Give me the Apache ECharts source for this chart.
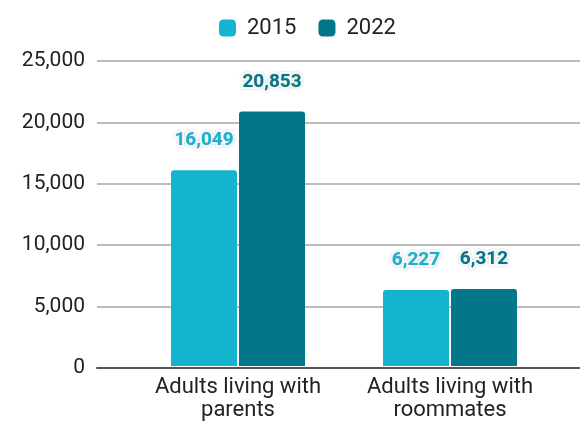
<!DOCTYPE html>
<html>
<head>
<meta charset="utf-8">
<script src="https://cdn.jsdelivr.net/npm/echarts@6/dist/echarts.min.js"></script>
<style>html,body{margin:0;padding:0;background:#fff}#c{width:580px;height:422px}</style>
</head>
<body>
<div id="c"></div>
<script>
const categories = ['Adults living with parents', 'Adults living with roommates'];
const seriesNames = ['2015', '2022'];
const values2015 = [16049, 6227];
const values2022 = [20853, 6312];
const yTicks = [0, 5000, 10000, 15000, 20000, 25000];

const colors = ['#14B4D1', '#02778A'];
const font = 'Roboto';
const fmt = v => v.toLocaleString('en-US');

const chart = echarts.init(document.getElementById('c'), null, {renderer: 'canvas'});
const labelCfg = (c) => ({
  show: true, position: 'top', distance: 20,
  color: c, fontFamily: font, fontWeight: 'bold', fontSize: 19,
  textBorderColor: '#fff', textBorderWidth: 4,
  textShadowColor: 'rgba(0,0,0,0.25)', textShadowBlur: 2,
  formatter: p => fmt(p.value)
});
chart.setOption({
  animation: false,
  textStyle: {fontFamily: font},
  legend: {
    top: 12, left: 214, itemWidth: 17, itemHeight: 17, itemGap: 22, icon: 'roundRect',
    textStyle: {fontFamily: font, fontSize: 22, color: '#222', padding: [0, 0, 0, 6]},
    data: seriesNames
  },
  grid: [
    {left: 97, right: 0, top: 61, bottom: 54},
    {left: 132, right: 24, top: 61, bottom: 54}
  ],
  xAxis: [
    {gridIndex: 0, type: 'value', min: 0, max: 1, axisLabel: {show: false}, splitLine: {show: false},
     axisTick: {show: false}, axisLine: {show: true, lineStyle: {color: '#555', width: 2}}},
    {gridIndex: 1, type: 'category', data: categories, axisLine: {show: false}, axisTick: {show: false},
     axisLabel: {interval: 0, hideOverlap: false, fontFamily: font, fontSize: 22, color: '#222', margin: 10, lineHeight: 23,
       formatter: v => v.replace(' with ', ' with\n')}}
  ],
  yAxis: [
    {gridIndex: 0, type: 'value', min: 0, max: 25000, interval: 5000,
     axisLine: {show: false}, axisTick: {show: false},
     axisLabel: {fontFamily: font, fontSize: 21, color: '#222', margin: 12, formatter: v => fmt(v),
       customValues: yTicks},
     splitLine: {lineStyle: {color: '#bcbcbc', width: 2}}},
    {gridIndex: 1, type: 'value', min: 0, max: 25000, interval: 5000, show: false, splitLine: {show: false}}
  ],
  series: [
    {name: seriesNames[0], type: 'bar', xAxisIndex: 1, yAxisIndex: 1, data: values2015,
     barWidth: 66, barGap: '3%', itemStyle: {color: colors[0], borderRadius: [3, 3, 0, 0]}, label: labelCfg(colors[0])},
    {name: seriesNames[1], type: 'bar', xAxisIndex: 1, yAxisIndex: 1, data: values2022,
     barWidth: 66, barGap: '3%', itemStyle: {color: colors[1], borderRadius: [3, 3, 0, 0]}, label: labelCfg(colors[1])}
  ]
});
</script>
</body>
</html>
